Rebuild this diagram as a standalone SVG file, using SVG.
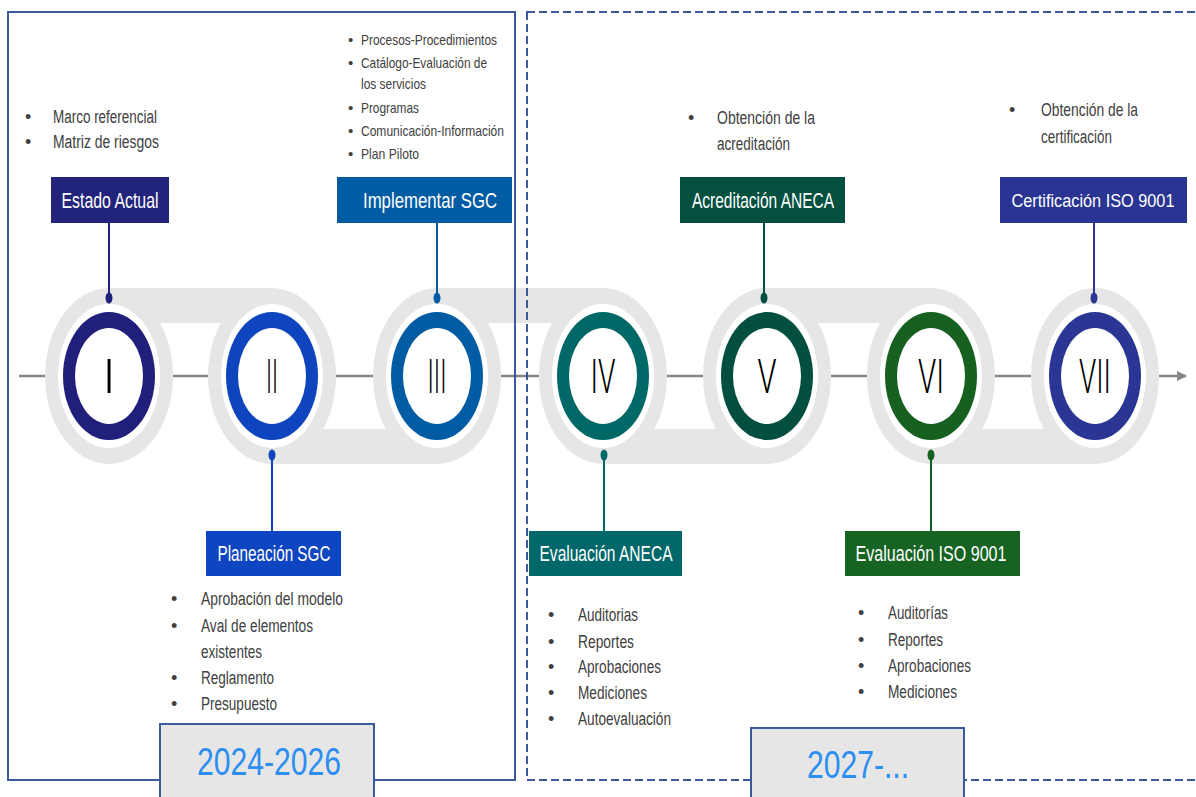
<svg xmlns="http://www.w3.org/2000/svg" width="1196" height="797" viewBox="0 0 1196 797">
  <defs>
    <marker id="arrow" viewBox="0 0 10 10" refX="9" refY="5" markerWidth="4" markerHeight="4" orient="auto" markerUnits="strokeWidth">
      <path d="M0,0 L10,5 L0,10 z" fill="#858585"/>
    </marker>
  </defs>
  <style>
    .track{fill:#e6e6e6}
    .halo{fill:#ffffff}
    .hole{fill:#ffffff}
    .num{font-family:Roboto,"Liberation Sans",sans-serif;font-weight:300;font-size:49px;fill:#000000;text-anchor:middle}
    .lbl{font-family:"Liberation Sans",Arial,sans-serif;font-size:22px;fill:#ffffff;text-anchor:middle}
    .txt{font-family:"Liberation Sans",Arial,sans-serif;font-size:18px;fill:#404040}
    .txts{font-family:"Liberation Sans",Arial,sans-serif;font-size:15px;fill:#404040}
    .yr{font-family:"Liberation Sans",Arial,sans-serif;font-size:39px;fill:#2b8ef0;text-anchor:middle}
    .ybox{fill:#e6e6e6;stroke:#3a5a9a;stroke-width:2}
    .pin{stroke-width:2;fill:none}
  </style>

  <rect width="1196" height="797" fill="#ffffff"/>

  <!-- main timeline line -->
  <g id="connectors">
    <line x1="19" y1="376" x2="1186" y2="376" stroke="#858585" stroke-width="2.5" marker-end="url(#arrow)"/>
  </g>

  <!-- serpentine track -->
  <g id="track">
    <rect class="track" x="109" y="288" width="163" height="35"/>
    <rect class="track" x="272" y="429" width="165" height="35"/>
    <rect class="track" x="437" y="288" width="166" height="35"/>
    <rect class="track" x="603" y="429" width="164" height="35"/>
    <rect class="track" x="767" y="288" width="164" height="35"/>
    <rect class="track" x="931" y="429" width="164" height="35"/>
    <ellipse class="track" cx="109" cy="376" rx="64" ry="88"/>
    <ellipse class="track" cx="272" cy="376" rx="64" ry="88"/>
    <ellipse class="track" cx="437" cy="376" rx="64" ry="88"/>
    <ellipse class="track" cx="603" cy="376" rx="64" ry="88"/>
    <ellipse class="track" cx="767" cy="376" rx="64" ry="88"/>
    <ellipse class="track" cx="931" cy="376" rx="64" ry="88"/>
    <ellipse class="track" cx="1095" cy="376" rx="64" ry="88"/>
  </g>

  <!-- frames -->
  <g id="frames">
    <rect x="8" y="12" width="507" height="768" fill="none" stroke="#3a5a9a" stroke-width="2"/>
    <rect x="527" y="12" width="700" height="768" fill="none" stroke="#3a5a9a" stroke-width="2" stroke-dasharray="8 4"/>
  </g>

  <g id="node-I">
    <ellipse class="halo" cx="109" cy="376" rx="51" ry="72"/>
    <ellipse cx="109" cy="376" rx="46" ry="64" fill="#201f7b"/>
    <ellipse class="hole" cx="109" cy="376" rx="34" ry="48"/>
    <text class="num" x="109" y="393">I</text>
    <line class="pin" x1="109" y1="223" x2="109" y2="298" stroke="#201f7b"/>
    <ellipse cx="109" cy="298" rx="3.5" ry="5.5" fill="#201f7b"/>
    <rect x="51" y="177" width="118" height="46" fill="#22237b"/>
    <text class="lbl" x="110" y="208" textLength="97" lengthAdjust="spacingAndGlyphs">Estado Actual</text>
    <text class="txt" x="25" y="123">•</text>
    <text class="txt" x="53" y="123" textLength="104" lengthAdjust="spacingAndGlyphs">Marco referencial</text>
    <text class="txt" x="25" y="148">•</text>
    <text class="txt" x="53" y="148" textLength="106" lengthAdjust="spacingAndGlyphs">Matriz de riesgos</text>
  </g>

  <g id="node-II">
    <ellipse class="halo" cx="272" cy="376" rx="51" ry="72"/>
    <ellipse cx="272" cy="376" rx="46" ry="64" fill="#0f44bf"/>
    <ellipse class="hole" cx="272" cy="376" rx="34" ry="48"/>
    <text class="num" x="272" y="393" textLength="12" lengthAdjust="spacingAndGlyphs">II</text>
    <line class="pin" x1="272" y1="455" x2="272" y2="531" stroke="#0f44bf"/>
    <ellipse cx="272" cy="455" rx="3.5" ry="5.5" fill="#0f44bf"/>
    <rect x="206" y="531" width="135" height="45" fill="#0e45c0"/>
    <text class="lbl" x="274" y="561" textLength="113" lengthAdjust="spacingAndGlyphs">Planeación SGC</text>
    <text class="txt" x="171" y="605">•</text>
    <text class="txt" x="201" y="605" textLength="142" lengthAdjust="spacingAndGlyphs">Aprobación del modelo</text>
    <text class="txt" x="171" y="632">•</text>
    <text class="txt" x="201" y="632" textLength="112" lengthAdjust="spacingAndGlyphs">Aval de elementos</text>
    <text class="txt" x="201" y="658" textLength="61" lengthAdjust="spacingAndGlyphs">existentes</text>
    <text class="txt" x="171" y="684">•</text>
    <text class="txt" x="201" y="684" textLength="73" lengthAdjust="spacingAndGlyphs">Reglamento</text>
    <text class="txt" x="171" y="710">•</text>
    <text class="txt" x="201" y="710" textLength="76" lengthAdjust="spacingAndGlyphs">Presupuesto</text>
  </g>

  <g id="node-III">
    <ellipse class="halo" cx="437" cy="376" rx="51" ry="72"/>
    <ellipse cx="437" cy="376" rx="46" ry="64" fill="#025ca3"/>
    <ellipse class="hole" cx="437" cy="376" rx="34" ry="48"/>
    <text class="num" x="437" y="393" textLength="19" lengthAdjust="spacingAndGlyphs">III</text>
    <line class="pin" x1="437" y1="223" x2="437" y2="298" stroke="#025ca3"/>
    <ellipse cx="437" cy="298" rx="3.5" ry="5.5" fill="#025ca3"/>
    <rect x="337" y="177" width="175" height="46" fill="#025ca3"/>
    <text class="lbl" x="430" y="208" textLength="134" lengthAdjust="spacingAndGlyphs">Implementar SGC</text>
    <text class="txts" x="348" y="45">•</text>
    <text class="txts" x="361" y="45" textLength="136" lengthAdjust="spacingAndGlyphs">Procesos-Procedimientos</text>
    <text class="txts" x="348" y="68">•</text>
    <text class="txts" x="361" y="68" textLength="126" lengthAdjust="spacingAndGlyphs">Catálogo-Evaluación de</text>
    <text class="txts" x="361" y="89" textLength="65" lengthAdjust="spacingAndGlyphs">los servicios</text>
    <text class="txts" x="348" y="113">•</text>
    <text class="txts" x="361" y="113" textLength="58" lengthAdjust="spacingAndGlyphs">Programas</text>
    <text class="txts" x="348" y="136">•</text>
    <text class="txts" x="361" y="136" textLength="143" lengthAdjust="spacingAndGlyphs">Comunicación-Información</text>
    <text class="txts" x="348" y="159">•</text>
    <text class="txts" x="361" y="159" textLength="58" lengthAdjust="spacingAndGlyphs">Plan Piloto</text>
  </g>

  <g id="node-IV">
    <ellipse class="halo" cx="603" cy="376" rx="51" ry="72"/>
    <ellipse cx="603" cy="376" rx="46" ry="64" fill="#006866"/>
    <ellipse class="hole" cx="603" cy="376" rx="34" ry="48"/>
    <text class="num" x="603" y="393" textLength="25" lengthAdjust="spacingAndGlyphs">IV</text>
    <line class="pin" x1="604" y1="455" x2="604" y2="531" stroke="#006866"/>
    <ellipse cx="604" cy="455" rx="3.5" ry="5.5" fill="#006866"/>
    <rect x="529" y="531" width="153" height="45" fill="#00676a"/>
    <text class="lbl" x="606" y="561" textLength="133" lengthAdjust="spacingAndGlyphs">Evaluación ANECA</text>
    <text class="txt" x="548" y="621">•</text>
    <text class="txt" x="578" y="621" textLength="60" lengthAdjust="spacingAndGlyphs">Auditorias</text>
    <text class="txt" x="548" y="648">•</text>
    <text class="txt" x="578" y="648" textLength="56" lengthAdjust="spacingAndGlyphs">Reportes</text>
    <text class="txt" x="548" y="673">•</text>
    <text class="txt" x="578" y="673" textLength="83" lengthAdjust="spacingAndGlyphs">Aprobaciones</text>
    <text class="txt" x="548" y="699">•</text>
    <text class="txt" x="578" y="699" textLength="69" lengthAdjust="spacingAndGlyphs">Mediciones</text>
    <text class="txt" x="548" y="725">•</text>
    <text class="txt" x="578" y="725" textLength="93" lengthAdjust="spacingAndGlyphs">Autoevaluación</text>
  </g>

  <g id="node-V">
    <ellipse class="halo" cx="767" cy="376" rx="51" ry="72"/>
    <ellipse cx="767" cy="376" rx="46" ry="64" fill="#024f40"/>
    <ellipse class="hole" cx="767" cy="376" rx="34" ry="48"/>
    <text class="num" x="767" y="393" textLength="19" lengthAdjust="spacingAndGlyphs">V</text>
    <line class="pin" x1="764" y1="223" x2="764" y2="298" stroke="#024f40"/>
    <ellipse cx="764" cy="298" rx="3.5" ry="5.5" fill="#024f40"/>
    <rect x="680" y="177" width="165" height="46" fill="#03503f"/>
    <text class="lbl" x="763" y="208" textLength="142" lengthAdjust="spacingAndGlyphs">Acreditación ANECA</text>
    <text class="txt" x="688" y="124">•</text>
    <text class="txt" x="717" y="124" textLength="98" lengthAdjust="spacingAndGlyphs">Obtención de la</text>
    <text class="txt" x="717" y="150" textLength="73" lengthAdjust="spacingAndGlyphs">acreditación</text>
  </g>

  <g id="node-VI">
    <ellipse class="halo" cx="931" cy="376" rx="51" ry="72"/>
    <ellipse cx="931" cy="376" rx="46" ry="64" fill="#166020"/>
    <ellipse class="hole" cx="931" cy="376" rx="34" ry="48"/>
    <text class="num" x="931" y="393" textLength="26" lengthAdjust="spacingAndGlyphs">VI</text>
    <line class="pin" x1="931" y1="455" x2="931" y2="531" stroke="#166020"/>
    <ellipse cx="931" cy="455" rx="3.5" ry="5.5" fill="#166020"/>
    <rect x="845" y="531" width="175" height="45" fill="#166322"/>
    <text class="lbl" x="931" y="561" textLength="151" lengthAdjust="spacingAndGlyphs">Evaluación ISO 9001</text>
    <text class="txt" x="858" y="619">•</text>
    <text class="txt" x="888" y="619" textLength="60" lengthAdjust="spacingAndGlyphs">Auditorías</text>
    <text class="txt" x="858" y="646">•</text>
    <text class="txt" x="888" y="646" textLength="55" lengthAdjust="spacingAndGlyphs">Reportes</text>
    <text class="txt" x="858" y="672">•</text>
    <text class="txt" x="888" y="672" textLength="83" lengthAdjust="spacingAndGlyphs">Aprobaciones</text>
    <text class="txt" x="858" y="698">•</text>
    <text class="txt" x="888" y="698" textLength="69" lengthAdjust="spacingAndGlyphs">Mediciones</text>
  </g>

  <g id="node-VII">
    <ellipse class="halo" cx="1095" cy="376" rx="51" ry="72"/>
    <ellipse cx="1095" cy="376" rx="46" ry="64" fill="#2a3594"/>
    <ellipse class="hole" cx="1095" cy="376" rx="34" ry="48"/>
    <text class="num" x="1095" y="393" textLength="32" lengthAdjust="spacingAndGlyphs">VII</text>
    <line class="pin" x1="1094" y1="223" x2="1094" y2="298" stroke="#2a3594"/>
    <ellipse cx="1094" cy="298" rx="3.5" ry="5.5" fill="#2a3594"/>
    <rect x="1000" y="177" width="187" height="46" fill="#2a3593"/>
    <text class="lbl" x="1093" y="207" style="font-size:18px" textLength="163" lengthAdjust="spacingAndGlyphs">Certificación ISO 9001</text>
    <text class="txt" x="1009" y="116">•</text>
    <text class="txt" x="1041" y="116" textLength="97" lengthAdjust="spacingAndGlyphs">Obtención de la</text>
    <text class="txt" x="1041" y="143" textLength="71" lengthAdjust="spacingAndGlyphs">certificación</text>
  </g>

  <g id="year-2024">
    <rect class="ybox" x="160" y="724" width="214" height="80"/>
    <text class="yr" x="269" y="775" textLength="144" lengthAdjust="spacingAndGlyphs">2024-2026</text>
  </g>
  <g id="year-2027">
    <rect class="ybox" x="751" y="728" width="213" height="80"/>
    <text class="yr" x="858" y="778" textLength="102" lengthAdjust="spacingAndGlyphs">2027-...</text>
  </g>
</svg>
